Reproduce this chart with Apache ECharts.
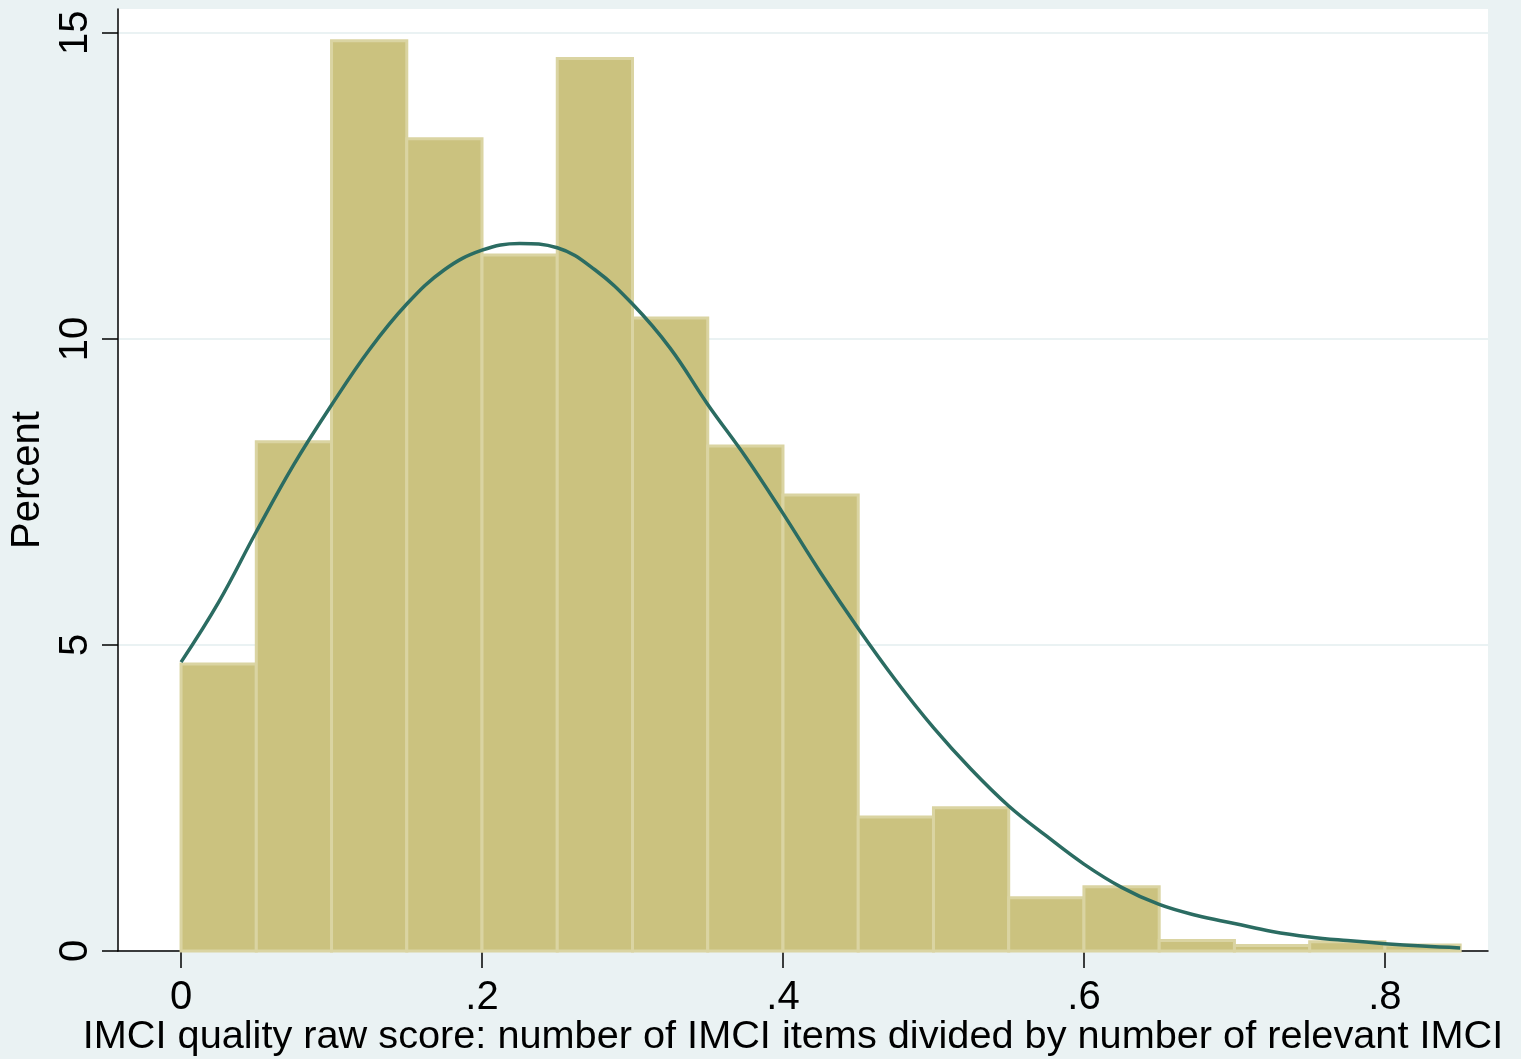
<!DOCTYPE html>
<html>
<head>
<meta charset="utf-8">
<title>IMCI quality raw score</title>
<script src="https://cdn.jsdelivr.net/npm/echarts@6/dist/echarts.min.js"></script>
<style>
  html, body { margin: 0; padding: 0; background: #EAF2F3; }
  #chart { width: 1521px; height: 1059px; }
</style>
</head>
<body>
<div id="chart"></div>
<script>
// Histogram bins (width 0.05) of the IMCI quality raw score, in percent
const binStarts = [0, 0.05, 0.10, 0.15, 0.20, 0.25, 0.30, 0.35, 0.40, 0.45, 0.50, 0.55, 0.60, 0.65, 0.70, 0.75, 0.80];
const binWidth = 0.05;
const binPercent = [4.69, 8.32, 14.87, 13.27, 11.37, 14.58, 10.34, 8.25, 7.45, 2.19, 2.34, 0.87, 1.05, 0.17, 0.09, 0.15, 0.10];

// Fitted density curve, expressed in percent per bin
const curveX = [0, 0.025, 0.05, 0.075, 0.1, 0.125, 0.15, 0.175, 0.2, 0.225, 0.25, 0.275, 0.3, 0.325, 0.35, 0.375, 0.4,
                0.425, 0.45, 0.475, 0.5, 0.525, 0.55, 0.575, 0.6, 0.625, 0.65, 0.675, 0.7, 0.725, 0.75, 0.775, 0.8, 0.825, 0.85];
const curveY = [4.72, 5.70, 6.85, 7.95, 8.92, 9.82, 10.57, 11.13, 11.45, 11.56, 11.49, 11.13, 10.57, 9.85, 8.93, 8.08, 7.15,
                6.18, 5.27, 4.42, 3.65, 2.97, 2.37, 1.88, 1.42, 1.04, 0.76, 0.58, 0.45, 0.32, 0.23, 0.17, 0.12, 0.08, 0.05];

// Axis ticks
const xTicks = [0, 0.2, 0.4, 0.6, 0.8];
const xTickLabels = ['0', '.2', '.4', '.6', '.8'];
const yTicks = [0, 5, 10, 15];
const yTickLabels = ['0', '5', '10', '15'];

const xTitle = 'IMCI quality raw score: number of IMCI items divided by number of relevant IMCI';
const yTitle = 'Percent';

const FONT = '"Liberation Sans", Arial, Helvetica, sans-serif';

const barData = binStarts.map((s, i) => [s, s + binWidth, binPercent[i]]);
const curveData = curveX.map((x, i) => [x, curveY[i]]);

const chart = echarts.init(document.getElementById('chart'), null, { renderer: 'canvas' });

chart.setOption({
  backgroundColor: '#EAF2F3',
  animation: false,
  grid: {
    left: 118, right: 33, top: 9, bottom: 108,
    show: true, backgroundColor: '#FFFFFF', borderWidth: 0,
    containLabel: false,
    outerBoundsMode: 'none'
  },
  xAxis: {
    type: 'value',
    min: -0.0419,
    max: 0.8685,
    name: xTitle,
    nameLocation: 'middle',
    nameGap: 66,
    nameMoveOverlap: false,
    nameTextStyle: { fontFamily: FONT, fontSize: 39.7, color: '#000', padding: [0, 20, 0, 0] },
    axisLine: { show: true, onZero: false, lineStyle: { color: '#000', width: 1.5 } },
    axisTick: { show: true, length: 17, lineStyle: { color: '#000', width: 1.5 }, customValues: xTicks },
    axisLabel: {
      customValues: xTicks,
      margin: 27,
      fontFamily: FONT, fontSize: 40, color: '#000',
      formatter: v => xTickLabels[xTicks.findIndex(t => Math.abs(t - v) < 1e-9)]
    },
    splitLine: { show: false }
  },
  yAxis: {
    type: 'value',
    min: 0,
    max: 15.39,
    name: yTitle,
    nameLocation: 'middle',
    nameGap: 58,
    nameRotate: 90,
    nameTextStyle: { fontFamily: FONT, fontSize: 40, color: '#000' },
    axisLine: { show: true, onZero: false, lineStyle: { color: '#000', width: 1.5 } },
    axisTick: { show: true, length: 16, lineStyle: { color: '#000', width: 1.5 }, customValues: yTicks },
    axisLabel: {
      customValues: yTicks,
      rotate: 90,
      margin: 22,
      fontFamily: FONT, fontSize: 40, color: '#000',
      formatter: v => yTickLabels[yTicks.findIndex(t => Math.abs(t - v) < 1e-9)]
    },
    splitLine: { show: true, lineStyle: { color: '#EAF2F3', width: 2 } }
  },
  series: [
    {
      type: 'custom',
      z: 2,
      data: barData,
      encode: { x: [0, 1], y: 2 },
      renderItem: function (params, api) {
        const p0 = api.coord([api.value(0), 0]);
        const p1 = api.coord([api.value(1), api.value(2)]);
        return {
          type: 'rect',
          shape: { x: p0[0], y: p1[1], width: p1[0] - p0[0], height: p0[1] - p1[1] },
          style: { fill: '#CBC27F', stroke: '#DAD4A2', lineWidth: 3 }
        };
      }
    },
    {
      type: 'line',
      z: 3,
      data: curveData,
      smooth: 0.4,
      showSymbol: false,
      symbol: 'none',
      lineStyle: { color: '#2B6C62', width: 3.5 }
    }
  ]
});
</script>
</body>
</html>
